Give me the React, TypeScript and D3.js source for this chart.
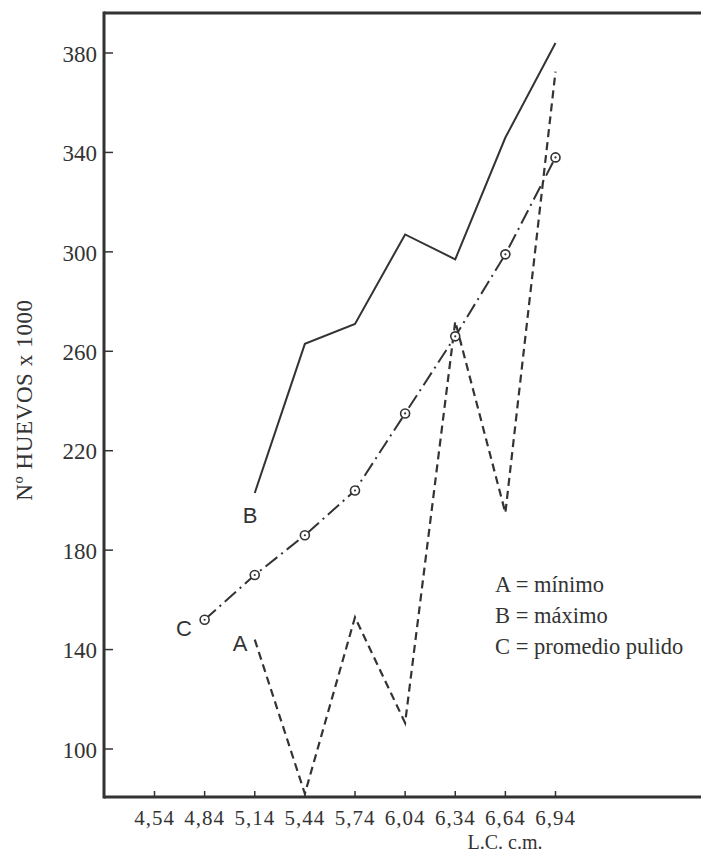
import React from "react";
import * as d3 from "d3";

// ---- data ----
const lengthLC: number[] = [4.84, 5.14, 5.44, 5.74, 6.04, 6.34, 6.64, 6.94];
const minimoX: number[] = [5.14, 5.44, 5.74, 6.04, 6.34, 6.64, 6.94];
const minimoA: number[] = [144, 82, 153, 110.5, 272, 195, 372.5];
const maximoX: number[] = [5.14, 5.44, 5.74, 6.04, 6.34, 6.64, 6.94];
const maximoB: number[] = [203, 263, 271, 307, 297, 346, 384];
const promedioC: number[] = [152, 170, 186, 204, 235, 266, 299, 338];
const xTicks: number[] = [4.54, 4.84, 5.14, 5.44, 5.74, 6.04, 6.34, 6.64, 6.94];
const xTickLabels: string[] = ["4,54", "4,84", "5,14", "5,44", "5,74", "6,04", "6,34", "6,64", "6,94"];
const yTicks: number[] = [100, 140, 180, 220, 260, 300, 340, 380];
const legendLines: string[] = ["A = mínimo", "B = máximo", "C = promedio pulido"];
const yTitle = "Nº HUEVOS  x  1000";
const xTitle = "L.C.  c.m.";

const W = 701;
const H = 859;
const plot = { left: 104, top: 13, right: 701, bottom: 797 };
const ink = "#333";
const serif = "'Liberation Serif', 'Times New Roman', serif";
const sans = "'Liberation Sans', Arial, sans-serif";

export default function App() {
  const x = d3.scaleLinear().domain([4.54, 6.94]).range([154.5, 555.5]);
  const y = d3.scaleLinear().domain([100, 380]).range([749, 53]);

  const line = d3
    .line<[number, number]>()
    .x((d) => x(d[0]))
    .y((d) => y(d[1]));

  const aPts: [number, number][] = minimoX.map((v, i) => [v, minimoA[i]]);
  const bPts: [number, number][] = maximoX.map((v, i) => [v, maximoB[i]]);
  const cPts: [number, number][] = lengthLC.map((v, i) => [v, promedioC[i]]);

  return (
    <svg
      width={W}
      height={H}
      style={{ position: "absolute", left: 0, top: 0, background: "#fff" }}
    >
      {/* frame: left axis, top, bottom */}
      <line x1={plot.left} x2={plot.left} y1={plot.top - 1.5} y2={plot.bottom + 1.5} stroke={ink} strokeWidth={3} />
      <line x1={plot.left} x2={plot.right} y1={plot.top} y2={plot.top} stroke={ink} strokeWidth={3} />
      <line x1={plot.left} x2={plot.right} y1={plot.bottom} y2={plot.bottom} stroke={ink} strokeWidth={3} />

      {/* y ticks */}
      {yTicks.map((t) => (
        <g key={"y" + t}>
          <line x1={plot.left} x2={plot.left + 9} y1={y(t)} y2={y(t)} stroke={ink} strokeWidth={1.5} />
          <text
            x={plot.left - 7}
            y={y(t)}
            dy="0.38em"
            textAnchor="end"
            fontFamily={serif}
            fontSize={23}
            fill={ink}
          >
            {t}
          </text>
        </g>
      ))}

      {/* x ticks */}
      {xTicks.map((t, i) => (
        <g key={"x" + t}>
          <line x1={x(t)} x2={x(t)} y1={plot.bottom} y2={plot.bottom - 6} stroke={ink} strokeWidth={1.5} />
          <text
            x={x(t)}
            y={825}
            textAnchor="middle"
            fontFamily={serif}
            fontSize={21}
            letterSpacing={1}
            fill={ink}
          >
            {xTickLabels[i]}
          </text>
        </g>
      ))}

      {/* axis titles */}
      <text x={505} y={849} textAnchor="middle" fontFamily={serif} fontSize={20} fill={ink}>
        {xTitle}
      </text>
      <text
        transform={`translate(32,400) rotate(-90)`}
        textAnchor="middle"
        fontFamily={serif}
        fontSize={23}
        letterSpacing={0.6}
        fill={ink}
      >
        {yTitle}
      </text>

      {/* series B: maximum, solid */}
      <path d={line(bPts) || ""} fill="none" stroke={ink} strokeWidth={2} />
      {/* series A: minimum, dashed */}
      <path d={line(aPts) || ""} fill="none" stroke={ink} strokeWidth={2.2} strokeDasharray="8 5" />
      {/* series C: smoothed mean, dash-dot with circle markers */}
      <path d={line(cPts) || ""} fill="none" stroke={ink} strokeWidth={2} strokeDasharray="15 5 2 5" />
      {cPts.map((p, i) => (
        <g key={"c" + i}>
          <circle cx={x(p[0])} cy={y(p[1])} r={4.5} fill="#fff" stroke={ink} strokeWidth={1.6} />
          <circle cx={x(p[0])} cy={y(p[1])} r={1.1} fill={ink} />
        </g>
      ))}

      {/* series labels */}
      <text x={250} y={523} textAnchor="middle" fontFamily={sans} fontSize={22} fill={ink}>B</text>
      <text x={184} y={636} textAnchor="middle" fontFamily={sans} fontSize={22} fill={ink}>C</text>
      <text x={240} y={651} textAnchor="middle" fontFamily={sans} fontSize={22} fill={ink}>A</text>

      {/* legend */}
      {legendLines.map((s, i) => (
        <text key={s} x={495} y={592 + i * 31} fontFamily={serif} fontSize={22.5} fill={ink}>
          {s}
        </text>
      ))}
    </svg>
  );
}
